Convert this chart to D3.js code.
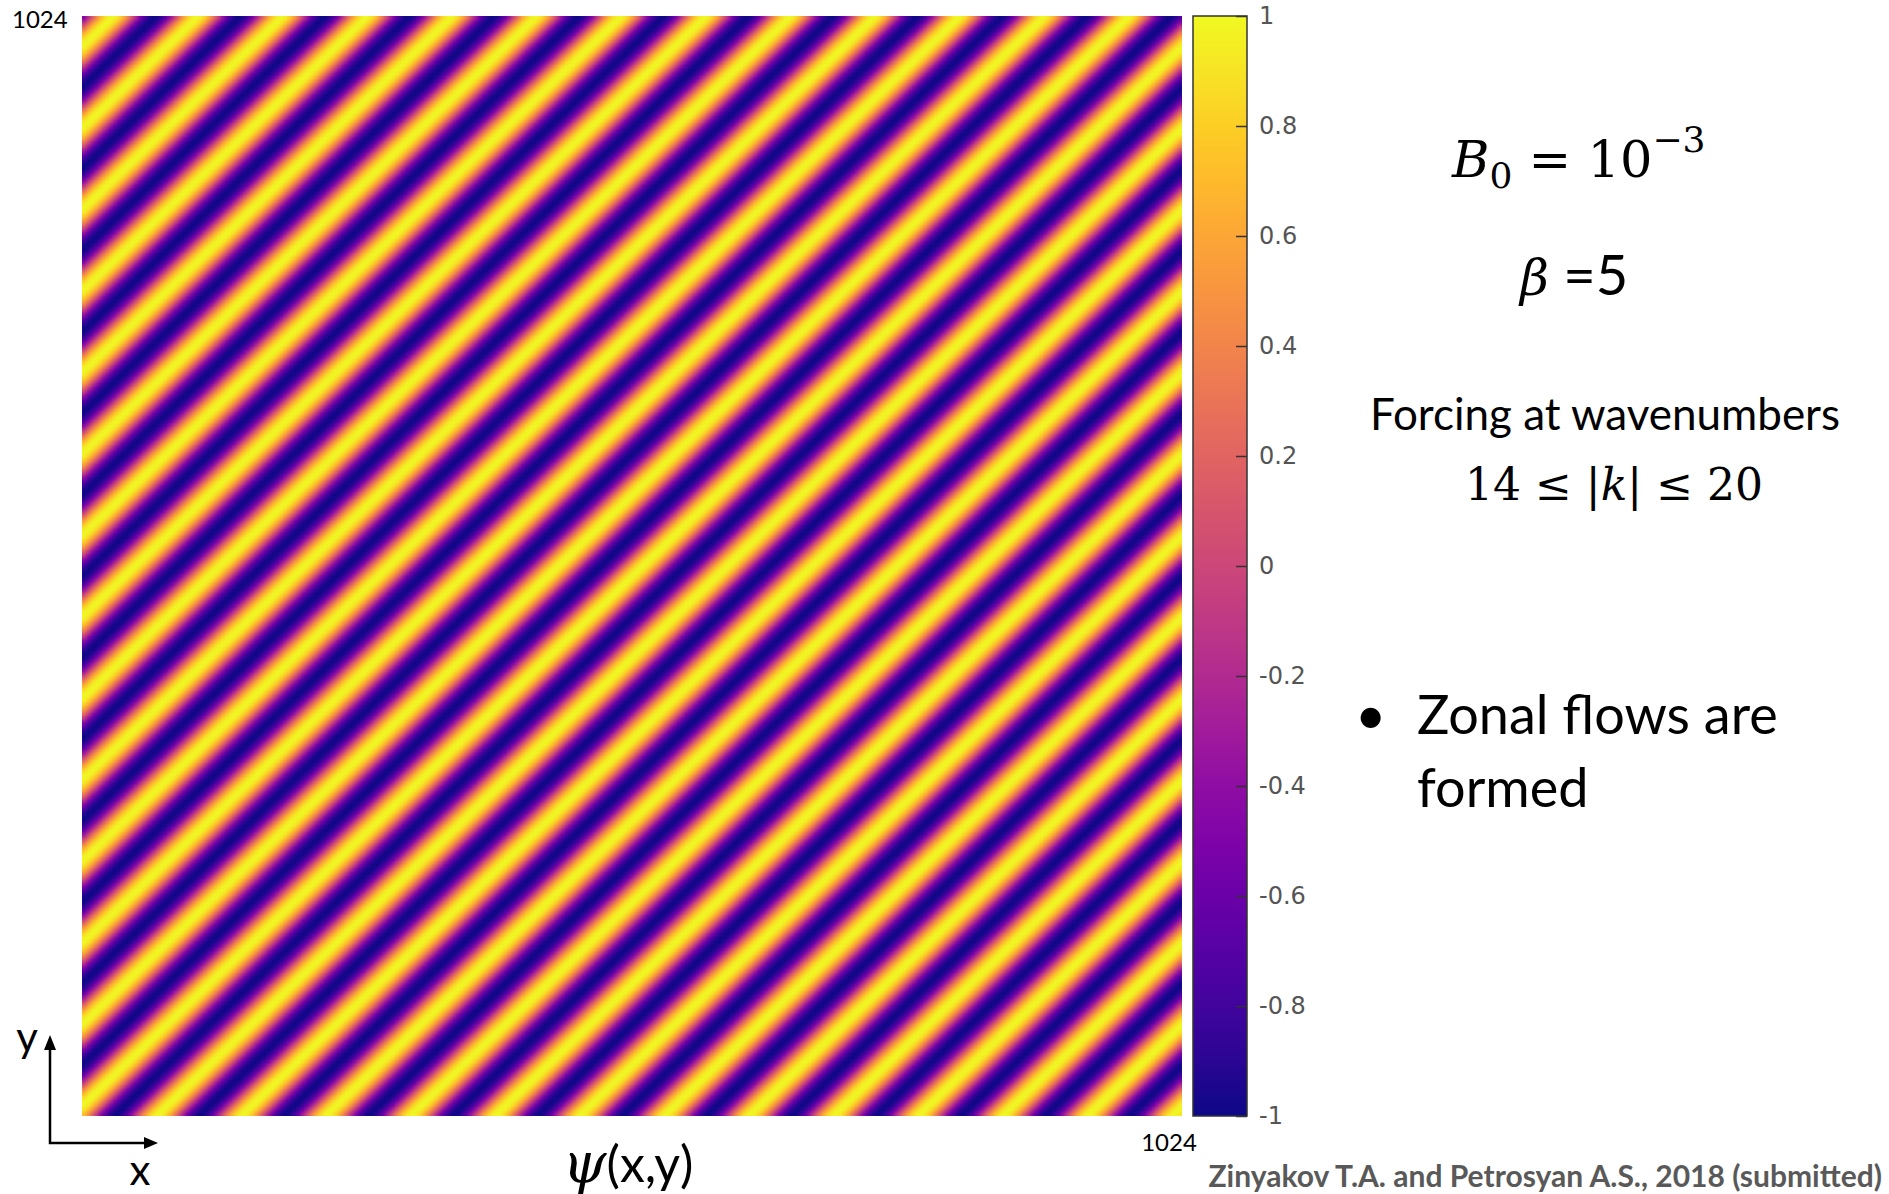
<!DOCTYPE html>
<meta charset="utf-8">
<style>
body { margin: 0; background: #fff; }
svg { display: block; }
.cbar .tick text { font-family: "DejaVu Sans", sans-serif; font-size: 24px; fill: #555; }
.cbar .tick line { stroke: #333; stroke-width: 1.5px; }
.cbar .domain { display: none; }
.slide { font-family: Lato, "Open Sans", sans-serif; fill: #000; }
.math { font-family: "DejaVu Serif", serif; fill: #000; }
</style>
<body>
<script src="https://d3js.org/d3.v7.min.js"></script>
<script>
// field psi(x,y) on the 1024 box: a plane wave
var boxSize = [1024];
var gridCells = [256];                 // resolution of the drawn field
var waveCycles = [13, 13.5];           // periods across the box in x and in y
var wavePhase = [2.34];                // radians
var colorTicks = [-1, -0.8, -0.6, -0.4, -0.2, 0, 0.2, 0.4, 0.6, 0.8, 1];
var cornerLabels = ["1024", "1024"];
var forcingLines = ["Forcing at wavenumbers", "14 \u2264 |k| \u2264 20"];
var bulletLines = ["Zonal flows are", "formed"];
var citation = ["Zinyakov T.A. and Petrosyan A.S., 2018 (submitted)"];

var width = 1889, height = 1194;

var svg = d3.select("body").append("svg")
    .attr("width", width)
    .attr("height", height);

var x = d3.scaleLinear().domain([0, boxSize[0]]).range([82, 1182]);
var y = d3.scaleLinear().domain([0, boxSize[0]]).range([1116, 16]);
var color = d3.scaleSequential(d3.interpolatePlasma).domain([-1, 1]);

// paint the field into a small canvas, let the browser smooth it up
var n = gridCells[0];
var step = boxSize[0] / n;
var canvas = document.createElement("canvas");
canvas.width = n;
canvas.height = n;
var ctx = canvas.getContext("2d");
var img = ctx.createImageData(n, n);
for (var j = 0; j < n; j++) {
  var yv = boxSize[0] - (j + 0.5) * step;       // row 0 is the top (y = 1024)
  for (var i = 0; i < n; i++) {
    var xv = (i + 0.5) * step;
    var psi = Math.sin(2 * Math.PI * (waveCycles[0] * xv - waveCycles[1] * yv) / boxSize[0] + wavePhase[0]);
    var c = d3.rgb(color(psi));
    var k = (j * n + i) * 4;
    img.data[k] = c.r; img.data[k + 1] = c.g; img.data[k + 2] = c.b; img.data[k + 3] = 255;
  }
}
ctx.putImageData(img, 0, 0);

svg.append("image")
    .attr("x", x(0))
    .attr("y", y(boxSize[0]))
    .attr("width", x(boxSize[0]) - x(0))
    .attr("height", y(0) - y(boxSize[0]))
    .attr("preserveAspectRatio", "none")
    .attr("href", canvas.toDataURL());

// colour bar
var cb = { x: 1193, w: 54 };
var cy = d3.scaleLinear().domain([-1, 1]).range([1116, 16]);

var grad = svg.append("defs").append("linearGradient")
    .attr("id", "plasma")
    .attr("x1", 0).attr("y1", 1).attr("x2", 0).attr("y2", 0);
grad.selectAll("stop")
    .data(d3.range(0, 1.0001, 0.05))
    .enter().append("stop")
    .attr("offset", function(d) { return d; })
    .attr("stop-color", function(d) { return color(-1 + 2 * d); });

svg.append("rect")
    .attr("x", cb.x)
    .attr("y", cy(1))
    .attr("width", cb.w)
    .attr("height", cy(-1) - cy(1))
    .style("fill", "url(#plasma)")
    .style("stroke", "#333")
    .style("stroke-width", 1.5);

svg.append("g")
    .attr("class", "cbar")
    .attr("transform", "translate(" + (cb.x + cb.w) + ",0)")
    .call(d3.axisRight(cy)
        .tickValues(colorTicks)
        .tickSize(-11)
        .tickPadding(12)
        .tickFormat(function(d) { return d3.format("")(+d.toFixed(1)).replace("\u2212", "-"); }));

// corner labels
svg.append("text").attr("class", "slide")
    .attr("x", 12).attr("y", 28)
    .style("font-size", "24px")
    .text(cornerLabels[0]);
svg.append("text").attr("class", "slide")
    .attr("x", 1169).attr("y", 1151)
    .attr("text-anchor", "middle")
    .style("font-size", "24px")
    .text(cornerLabels[1]);

// little axes sketch
svg.append("path")
    .attr("d", "M50,1048 L50,1143 L146,1143")
    .style("fill", "none").style("stroke", "#000").style("stroke-width", 2.5);
svg.append("path")
    .attr("d", "M44,1050 L50,1035 L56,1050 Z")
    .style("fill", "#000");
svg.append("path")
    .attr("d", "M144,1137 L158,1143 L144,1149 Z")
    .style("fill", "#000");
svg.append("text").attr("class", "slide")
    .attr("x", 27).attr("y", 1052).attr("text-anchor", "middle")
    .style("font-size", "42px").text("y");
svg.append("text").attr("class", "slide")
    .attr("x", 140).attr("y", 1185).attr("text-anchor", "middle")
    .style("font-size", "42px").text("x");

var psiLabel = svg.append("text").attr("class", "slide")
    .attr("x", 628).attr("y", 1182).attr("text-anchor", "middle")
    .style("font-size", "50px");
psiLabel.append("tspan").attr("class", "math")
    .style("font-style", "italic").style("font-size", "56px").text("\u03c8");
psiLabel.append("tspan").text("(x,y)");

// parameters on the right
var b0 = svg.append("text").attr("class", "math")
    .attr("x", 1452).attr("y", 177)
    .style("font-size", "51px");
b0.append("tspan").style("font-style", "italic").text("B");
b0.append("tspan").attr("dy", 11).style("font-size", "36px").text("0");
b0.append("tspan").attr("dy", -11).text(" = 10");
b0.append("tspan").attr("dy", -25).style("font-size", "36px").text("\u22123");

var beta = svg.append("text").attr("class", "math")
    .attr("x", 1520).attr("y", 295)
    .style("font-size", "50px");
beta.append("tspan").style("font-style", "italic").text("\u03b2");
beta.append("tspan").attr("class", "slide").style("font-size", "56px").text(" =5");

svg.append("text").attr("class", "slide")
    .attr("x", 1605).attr("y", 430).attr("text-anchor", "middle")
    .style("font-size", "44px")
    .text(forcingLines[0]);

var kline = svg.append("text").attr("class", "math")
    .attr("x", 1614).attr("y", 500).attr("text-anchor", "middle")
    .style("font-size", "44px");
kline.append("tspan").text("14 \u2264 |");
kline.append("tspan").style("font-style", "italic").text("k");
kline.append("tspan").text("| \u2264 20");

svg.append("text").attr("class", "slide")
    .attr("x", 1355).attr("y", 734)
    .style("font-size", "54px")
    .text("\u2022");
svg.selectAll("text.bullet")
    .data(bulletLines)
    .enter().append("text")
    .attr("class", "slide bullet")
    .attr("x", 1417)
    .attr("y", function(d, i) { return 734 + i * 73; })
    .style("font-size", "54px")
    .text(function(d) { return d; });

svg.append("text").attr("class", "slide")
    .attr("x", 1882).attr("y", 1187).attr("text-anchor", "end")
    .style("font-size", "30px").style("font-weight", "bold").style("fill", "#595959")
    .text(citation[0]);
</script>
